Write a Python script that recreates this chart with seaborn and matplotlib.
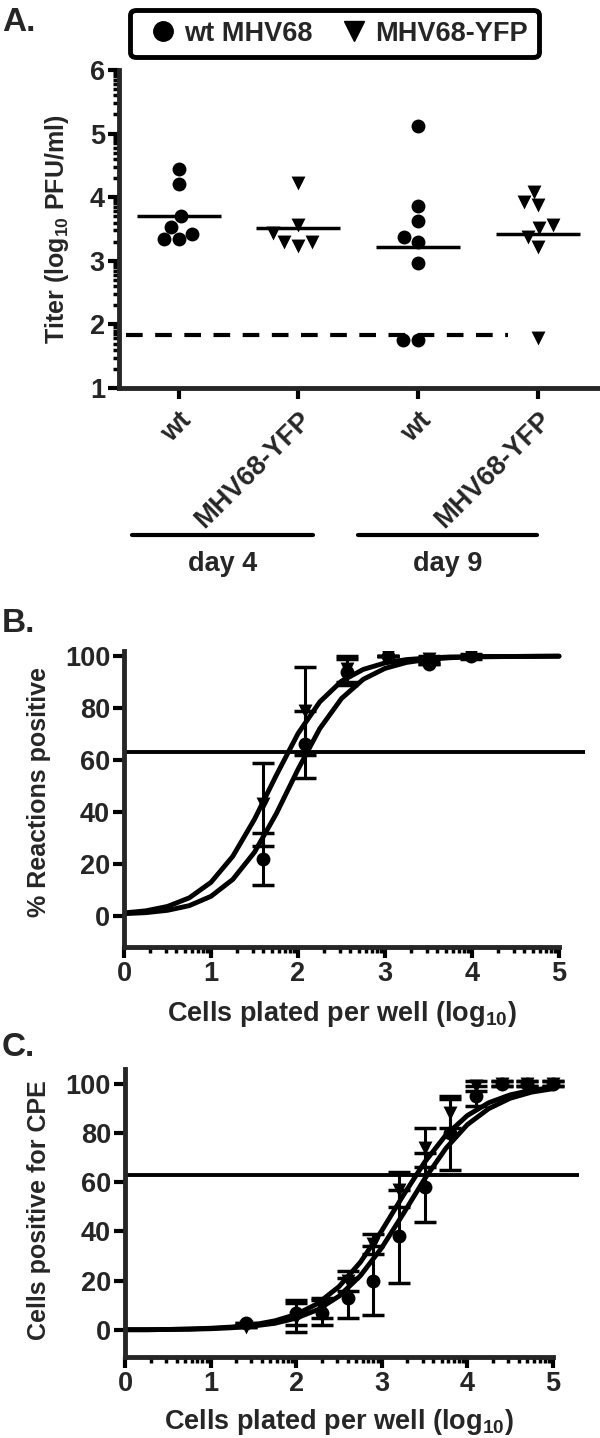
import numpy as np
import pandas as pd
import matplotlib
matplotlib.use("Agg")
import matplotlib.pyplot as plt
from matplotlib.lines import Line2D
import seaborn as sns

# ---- Panel A: lung titers per mouse (log10 PFU/ml)
groups = ["wt d4", "YFP d4", "wt d9", "YFP d9"]
group_labels = ["wt", "MHV68-YFP", "wt", "MHV68-YFP"]
group_virus = ["wt", "YFP", "wt", "YFP"]
wt_day4 = [4.45, 4.20, 3.70, 3.53, 3.42, 3.34, 3.34]
yfp_day4 = [4.22, 3.57, 3.43, 3.30, 3.24, 3.30]
wt_day9 = [5.12, 3.86, 3.62, 3.37, 3.30, 2.97, 1.76, 1.76]
yfp_day9 = [4.08, 3.92, 3.87, 3.57, 3.52, 3.38, 3.22, 1.78]
detection_limit = 1.84
days = ["day 4", "day 9"]

# ---- Panel B: limiting dilution PCR
b_x = [1.60, 2.08, 2.56, 3.03, 3.51, 3.99]
b_wt = [22, 66, 94, 100, 97, 100]
b_wt_err = [10, 13, 5, 0, 0, 0]
b_yfp = [43, 79, 95, 100, 99, 100]
b_yfp_err = [16, 17, 5, 0, 1, 1]

# ---- Panel C: limiting dilution reactivation (CPE)
c_x = [1.41, 2.0, 2.3, 2.6, 2.9, 3.2, 3.5, 3.8, 4.1, 4.4, 4.7, 5.0]
c_wt = [3, 7, 7, 13, 20, 38, 58, 80, 95, 100, 100, 100]
c_wt_err = [0, 5, 5, 8, 14, 19, 14, 15, 4, 1, 1, 1]
c_yfp = [1, 5, 9, 20, 35, 57, 74, 88, 99, 100, 100, 100]
c_yfp_err = [0, 6, 4, 4, 4, 7, 8, 6, 2, 1, 1, 1]

# fitted curves
fit_x = [0, 0.25, 0.5, 0.75, 1.0, 1.25, 1.5, 1.75, 2.0, 2.25, 2.5,
         2.75, 3.0, 3.25, 3.5, 3.75, 4.0, 4.25, 4.5, 4.75, 5.0]
b_fit_wt = [0.8, 1.2, 2.1, 3.9, 7.5, 14.0, 24.5, 39.3, 56.4, 72.1, 83.7,
            91.1, 95.3, 97.6, 98.8, 99.4, 99.7, 99.8, 99.9, 99.9, 100.0]
b_fit_yfp = [1.1, 1.9, 3.6, 6.9, 12.9, 22.9, 37.2, 54.1, 70.2, 82.4, 90.4,
             94.9, 97.4, 98.7, 99.3, 99.7, 99.8, 99.9, 99.9, 100.0, 100.0]
c_fit_wt = [0.1, 0.1, 0.2, 0.3, 0.5, 0.9, 1.6, 2.7, 4.8, 8.2, 13.7,
            22.0, 33.4, 47.1, 61.3, 73.8, 83.4, 89.9, 94.1, 96.6, 98.0]
c_fit_yfp = [0.1, 0.1, 0.2, 0.4, 0.7, 1.2, 2.1, 3.7, 6.3, 10.7, 17.6,
             27.5, 40.3, 54.6, 68.1, 79.2, 87.1, 92.3, 95.5, 97.4, 98.5]
poisson_line = 63

# ---- style
sns.set_style("ticks")
plt.rcParams["font.family"] = ["Liberation Sans", "DejaVu Sans"]
plt.rcParams["font.weight"] = "bold"
plt.rcParams["axes.labelweight"] = "bold"
plt.rcParams["mathtext.fontset"] = "custom"
plt.rcParams["mathtext.rm"] = "Liberation Sans:bold"
plt.rcParams["mathtext.it"] = "Liberation Sans:bold"
plt.rcParams["mathtext.bf"] = "Liberation Sans:bold"
plt.rcParams["mathtext.default"] = "rm"

FS = 19.5      # horizontal text
FS_Y = 18      # rotated axis titles
SPINE = 3.5


def style_axes(ax):
    sns.despine(ax=ax)
    for s in ("left", "bottom"):
        ax.spines[s].set_linewidth(SPINE)
    ax.tick_params(which="major", length=8, width=3, labelsize=FS, pad=2, color="black")
    ax.tick_params(which="minor", length=4.5, width=2.5, color="black")


def log_minor(lo, hi):
    return [n + np.log10(k) for n in range(lo, hi) for k in range(2, 10)]


fig = plt.figure(figsize=(6, 14.38), dpi=100)

# ================= Panel A =================
axA = fig.add_axes([0.198, 0.7302, 0.802, 0.2211])
titer = pd.DataFrame({
    "group": [groups[0]] * len(wt_day4) + [groups[1]] * len(yfp_day4)
             + [groups[2]] * len(wt_day9) + [groups[3]] * len(yfp_day9),
    "titer": wt_day4 + yfp_day4 + wt_day9 + yfp_day9,
})
titer["virus"] = titer["group"].map(dict(zip(groups, group_virus)))

sns.swarmplot(data=titer[titer.virus == "wt"], x="group", y="titer", order=groups,
              marker="o", color="black", size=10, ax=axA)
sns.swarmplot(data=titer[titer.virus == "YFP"], x="group", y="titer", order=groups,
              marker="v", color="black", size=10, ax=axA)
for i, g in enumerate(groups):
    m = titer.loc[titer.group == g, "titer"].mean()
    axA.hlines(m, i - 0.35, i + 0.35, color="black", lw=2.5)
axA.hlines(detection_limit, -0.44, 2.75, color="black", lw=3, linestyles=(0, (4, 3)))

axA.set_xlim(-0.5, 3.52)
axA.set_ylim(1, 6)
axA.set_yticks([1, 2, 3, 4, 5, 6])
axA.set_yticks(log_minor(1, 6), minor=True)
axA.set_xticks(range(len(groups)))
axA.set_xticklabels(group_labels, rotation=45, ha="right", rotation_mode="anchor")
style_axes(axA)
axA.tick_params(axis="x", pad=6)
axA.set_xlabel("")
axA.set_ylabel(r"Titer (log$_{10}$ PFU/ml)", fontsize=FS_Y)
axA.yaxis.set_label_coords(-0.100, 0.5)

# day brackets under the category labels
trans = axA.get_xaxis_transform()
for (x0, x1), day in zip([(-0.39, 1.12), (1.50, 2.99)], days):
    axA.plot([x0, x1], [-0.462, -0.462], color="black", lw=3, transform=trans, clip_on=False)
    axA.text((x0 + x1) / 2, -0.554, day, transform=trans, ha="center", va="center",
             fontsize=FS, fontweight="bold")

handles = [Line2D([], [], ls="none", marker="o", color="black", ms=14, label="wt MHV68"),
           Line2D([], [], ls="none", marker="v", color="black", ms=15, label="MHV68-YFP")]
leg = fig.legend(handles=handles, loc="center", bbox_to_anchor=(0.5575, 0.9767), ncol=2,
                 fontsize=FS, frameon=True, fancybox=True, framealpha=1, edgecolor="black",
                 handletextpad=0.0, columnspacing=0.7, borderpad=0.4, handlelength=1.6)
leg.get_frame().set_linewidth(3.5)


# ================= Panels B and C =================
def dilution_panel(ax, x, wt, wt_err, yfp, yfp_err, fit_wt, fit_yfp, ylabel, ylim):
    sns.lineplot(x=fit_x, y=fit_wt, color="black", lw=3.5, ax=ax)
    sns.lineplot(x=fit_x, y=fit_yfp, color="black", lw=3.5, ax=ax)
    ax.errorbar(x, wt, yerr=wt_err, fmt="none", ecolor="black", elinewidth=2.2,
                capsize=8, capthick=2.5)
    ax.errorbar(x, yfp, yerr=yfp_err, fmt="none", ecolor="black", elinewidth=2.2,
                capsize=8, capthick=2.5)
    sns.scatterplot(x=x, y=wt, marker="o", color="black", s=100, linewidth=0, ax=ax)
    sns.scatterplot(x=x, y=yfp, marker="v", color="black", s=100, linewidth=0, ax=ax)
    ax.axhline(poisson_line, xmin=0, xmax=1, color="black", lw=2.8)
    ax.set_xlim(0, 5.3)
    ax.set_ylim(*ylim)
    ax.spines["bottom"].set_bounds(0, 5)
    ax.set_xticks([0, 1, 2, 3, 4, 5])
    ax.set_xticks(log_minor(0, 5), minor=True)
    ax.set_yticks([0, 20, 40, 60, 80, 100])
    style_axes(ax)
    ax.set_xlabel(r"Cells plated per well (log$_{10}$)", fontsize=FS)
    ax.xaxis.set_label_coords(2.5 / 5.3, -0.175)
    ax.set_ylabel(ylabel, fontsize=FS_Y)


axB = fig.add_axes([0.2067, 0.3415, 0.7685, 0.2058])
dilution_panel(axB, b_x, b_wt, b_wt_err, b_yfp, b_yfp_err, b_fit_wt, b_fit_yfp,
               "% Reactions positive", (-12, 102))
axB.yaxis.set_label_coords(-0.158, 0.524)

axC = fig.add_axes([0.2083, 0.0563, 0.756, 0.2003])
dilution_panel(axC, c_x, c_wt, c_wt_err, c_yfp, c_yfp_err, c_fit_wt, c_fit_yfp,
               "Cells positive for CPE", (-11, 106))
axC.yaxis.set_label_coords(-0.163, 0.51)

# panel letters
for y, letter in [(0.995, "A."), (0.577, "B."), (0.282, "C.")]:
    fig.text(0.003, y, letter, fontsize=24, fontweight="bold", va="top", ha="left")

fig.savefig("out.png", dpi=100)
